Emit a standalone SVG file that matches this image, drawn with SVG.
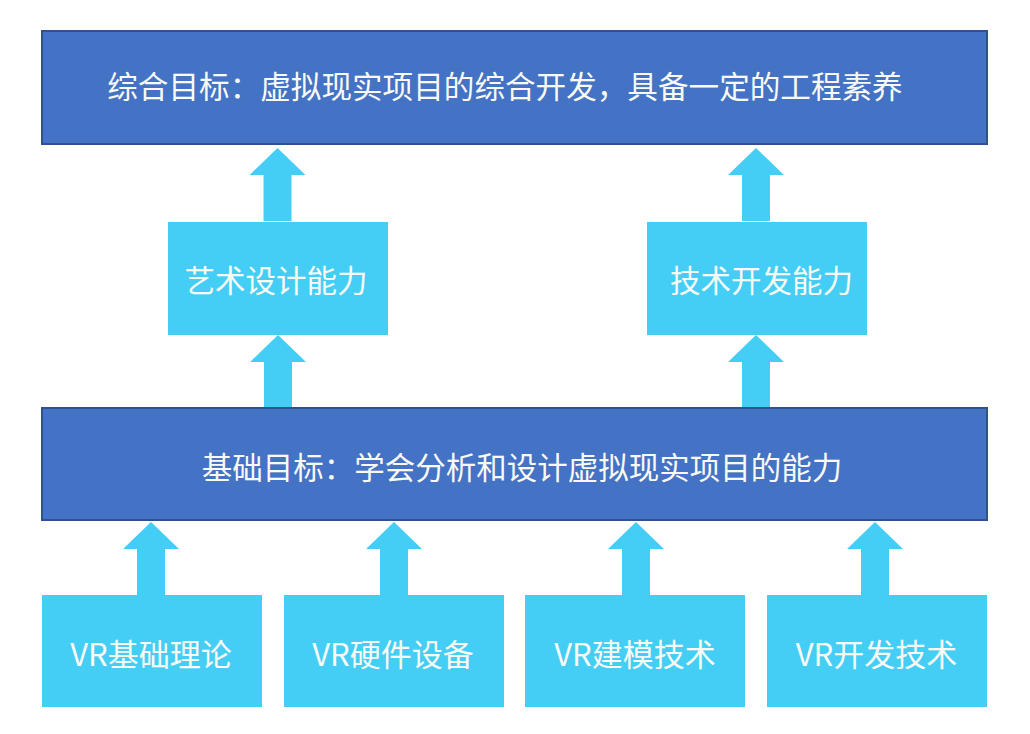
<svg xmlns="http://www.w3.org/2000/svg" xmlns:xlink="http://www.w3.org/1999/xlink" width="1030" height="734" viewBox="0 0 1030 734">
  <style>
    .goal { fill: #4472C4; stroke: #2F528F; stroke-width: 2; }
    .item { fill: #44CEF6; }
    .arrow { fill: #44CEF6; }
    text { font-family: "Noto Sans CJK SC", "Noto Sans", sans-serif; fill: #FAFAF5; text-anchor: middle; dominant-baseline: central; }
    .t32 { font-size: 30.6px; }
    .t30 { font-size: 30.5px; }
    .tvr { font-size: 31px; }
  </style>
  <defs>
    <path id="up" d="M0,0 L28,27 L14,27 L14,73 L-14,73 L-14,27 L-28,27 Z"/>
  </defs>
  <rect width="1030" height="734" fill="#FFFFFF"/>

  <g id="connectors" class="arrow">
    <use xlink:href="#up" x="277.5" y="148"/>
    <use xlink:href="#up" x="756" y="148"/>
    <use xlink:href="#up" x="278" y="335"/>
    <use xlink:href="#up" x="756" y="335"/>
    <use xlink:href="#up" x="151" y="522"/>
    <use xlink:href="#up" x="394" y="522"/>
    <use xlink:href="#up" x="636" y="522"/>
    <use xlink:href="#up" x="875" y="522"/>
  </g>

  <g id="node-top">
    <rect class="goal" x="42" y="31" width="945" height="113"/>
    <text class="t32" x="505" y="85">综合目标：虚拟现实项目的综合开发，具备一定的工程素养</text>
  </g>

  <g id="node-art">
    <rect class="item" x="168" y="222" width="220" height="113"/>
    <text class="t30" x="276" y="279">艺术设计能力</text>
  </g>

  <g id="node-tech">
    <rect class="item" x="647" y="222" width="220" height="113"/>
    <text class="t30" x="761.5" y="279">技术开发能力</text>
  </g>

  <g id="node-base">
    <rect class="goal" x="42" y="408" width="945" height="112"/>
    <text class="t30" x="522" y="466">基础目标：学会分析和设计虚拟现实项目的能力</text>
  </g>

  <g id="node-vr1">
    <rect class="item" x="42" y="595" width="220" height="112"/>
    <text class="tvr" x="151" y="652">VR基础理论</text>
  </g>

  <g id="node-vr2">
    <rect class="item" x="284" y="595" width="220" height="112"/>
    <text class="tvr" x="393" y="652">VR硬件设备</text>
  </g>

  <g id="node-vr3">
    <rect class="item" x="525" y="595" width="220" height="112"/>
    <text class="tvr" x="635" y="652">VR建模技术</text>
  </g>

  <g id="node-vr4">
    <rect class="item" x="767" y="595" width="220" height="112"/>
    <text class="tvr" x="876.5" y="652">VR开发技术</text>
  </g>
</svg>
